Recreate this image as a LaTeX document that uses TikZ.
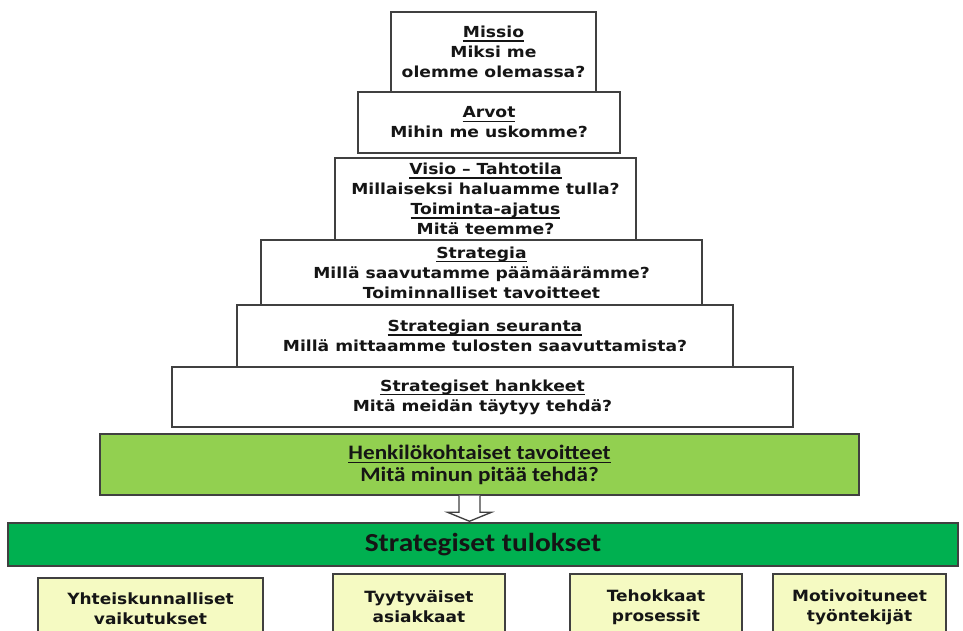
\documentclass[tikz,border=0pt]{standalone}
\usepackage{fontspec}
\usetikzlibrary{calc}
\newfontfamily\vfont{DejaVu Sans}[FakeStretch=1.13]
\newfontfamily\wfont{DejaVu Sans}[FakeStretch=1.1]
\newfontfamily\cfont{Carlito}[FakeStretch=1.13]
\definecolor{bordercol}{HTML}{404040}
\definecolor{henkgreen}{HTML}{92D050}
\definecolor{tulgreen}{HTML}{00B050}
\definecolor{paleyellow}{RGB}{245,250,194}
\definecolor{txtcol}{HTML}{151515}
\newsavebox\myulbox
\newcommand\myul[1]{\leavevmode\sbox\myulbox{#1}\rlap{\rule[-3pt]{\wd\myulbox}{0.9pt}}\usebox\myulbox}
\begin{document}
\begin{tikzpicture}[x=0.75pt,y=-0.75pt,
  span/.style n args={4}{minimum width={(#3-#1)*0.75pt}, minimum height={(#4-#2)*0.75pt},
    at={({(#1+#3)/2},{(#2+#4)/2})}},
  pbox/.style={draw=bordercol, line width=1.1pt, fill=white, inner sep=0pt, align=center,
    text=txtcol, font=\vfont\bfseries\fontsize{11.4}{15}\selectfont},
  hbox/.style={pbox, fill=henkgreen, font=\cfont\bfseries\fontsize{15.4}{16.5}\selectfont},
  tbox/.style={pbox, fill=tulgreen, font=\cfont\bfseries\fontsize{19.5}{22}\selectfont},
  rbox/.style={pbox, fill=paleyellow, font=\wfont\bfseries\fontsize{11.6}{15}\selectfont},
  arrowst/.style={draw=bordercol, line width=1pt, fill=white, line join=miter}]
\useasboundingbox (0,0) rectangle (963,631);
\clip (0,0) rectangle (963,631);
\fill[white] (0,0) rectangle (963,631);

\node[pbox, span={391}{12}{596}{92}] (missio) {\myul{Missio}\\Miksi me\\olemme olemassa?};
\node[pbox, span={358}{92}{620}{153}] (arvot) {\myul{Arvot}\\Mihin me uskomme?};
\node[pbox, span={335}{158}{636}{240}] (visio) {\myul{Visio – Tahtotila}\\Millaiseksi haluamme tulla?\\\myul{Toiminta-ajatus}\\Mitä teemme?};
\node[pbox, span={261}{240}{702}{305}] (strategia) {\myul{Strategia}\\Millä saavutamme päämäärämme?\\Toiminnalliset tavoitteet};
\node[pbox, span={237}{305}{733}{367}] (seuranta) {\myul{Strategian seuranta}\\Millä mittaamme tulosten saavuttamista?};
\node[pbox, span={172}{367}{793}{427}] (hankkeet) {\myul{Strategiset hankkeet}\\Mitä meidän täytyy tehdä?};
\node[hbox, span={100}{434}{859}{495}] (henk) {\myul{Henkilökohtaiset tavoitteet}\\Mitä minun pitää tehdä?};
\node[tbox, span={8}{523}{958}{566}] (tul) {Strategiset tulokset};

\coordinate (ax) at (469.5,0);
\draw[arrowst] ($(ax |- henk.south)+(-10.5,0)$) -- ($(ax |- tul.north)+(-10.5,-10)$)
  -- ($(ax |- tul.north)+(-22,-10)$) -- ($(ax |- tul.north)+(0,-1)$)
  -- ($(ax |- tul.north)+(22,-10)$) -- ($(ax |- tul.north)+(10.5,-10)$)
  -- ($(ax |- henk.south)+(10.5,0)$);

\node[rbox, span={38}{578}{263}{640}] (yht) {Yhteiskunnalliset\\vaikutukset};
\node[rbox, span={333}{574}{505}{640}] (tyyt) {Tyytyväiset\\asiakkaat};
\node[rbox, span={570}{574}{742}{640}] (teh) {Tehokkaat\\prosessit};
\node[rbox, span={773}{574}{946}{640}] (mot) {Motivoituneet\\työntekijät};
\end{tikzpicture}
\end{document}
